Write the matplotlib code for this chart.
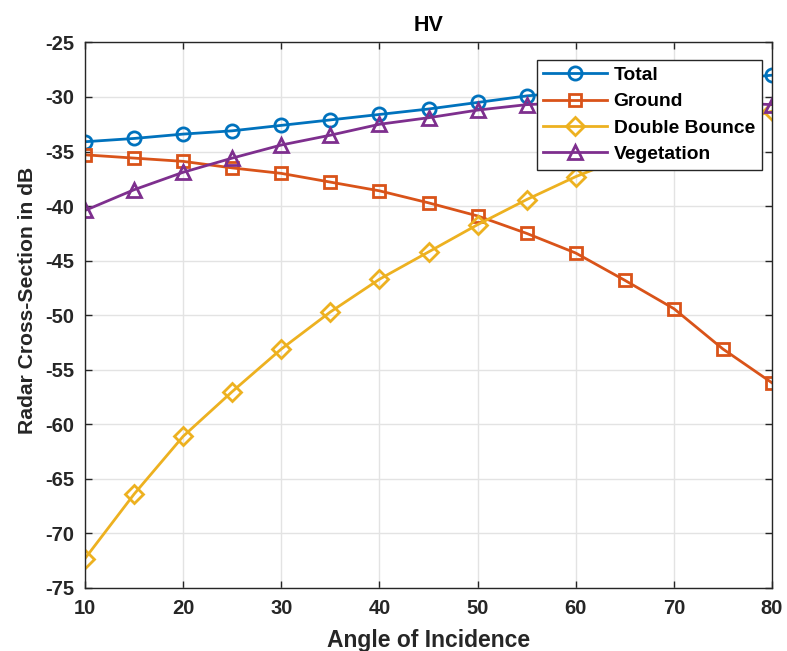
import matplotlib
matplotlib.use("Agg")
import matplotlib.pyplot as plt

angles = [10, 15, 20, 25, 30, 35, 40, 45, 50, 55, 60, 65, 70, 75, 80]
total = [-34.1, -33.8, -33.4, -33.1, -32.6, -32.1, -31.6, -31.1, -30.5, -29.9, -29.5, -29.1, -28.7, -28.4, -28.0]
ground = [-35.3, -35.6, -35.9, -36.5, -37.0, -37.8, -38.6, -39.7, -40.9, -42.5, -44.3, -46.8, -49.4, -53.1, -56.2]
double_bounce = [-72.3, -66.4, -61.1, -57.0, -53.1, -49.7, -46.7, -44.2, -41.7, -39.4, -37.3, -35.5, -34.0, -32.6, -31.3]
vegetation = [-40.4, -38.5, -36.9, -35.6, -34.4, -33.5, -32.5, -31.9, -31.2, -30.7, -30.5, -30.4, -30.4, -30.5, -30.7]

series_names = ["Total", "Ground", "Double Bounce", "Vegetation"]
colors = ["#0072BD", "#D95319", "#EDB120", "#7E2F8E"]
markers = ["o", "s", "D", "^"]
msizes = [9.5, 8.5, 9, 10.5]

plt.rcParams['font.family'] = ['Liberation Sans', 'DejaVu Sans']
plt.rcParams['font.weight'] = 'bold'
plt.rcParams['axes.unicode_minus'] = False

fig = plt.figure(figsize=(7.87, 6.51), dpi=100)
ax = fig.add_axes([0.108, 0.0968, 0.873, 0.838])

for data, name, c, m, ms in zip([total, ground, double_bounce, vegetation], series_names, colors, markers, msizes):
    ax.plot(angles, data, color=c, marker=m, markersize=ms,
            markerfacecolor='none', markeredgewidth=2, linewidth=2, label=name)

ax.set_xlim(10, 80)
ax.set_ylim(-75, -25)
ax.set_xticks(range(10, 81, 10))
ax.set_yticks(range(-75, -24, 5))
ax.grid(True, color='#e3e3e3', linewidth=1)
ax.set_axisbelow(True)
ax.tick_params(direction='in', top=True, right=True, labelsize=14.5, length=5, width=1,
               colors='#262626', pad=8)
for lab in ax.get_xticklabels() + ax.get_yticklabels():
    lab.set_fontweight('bold')
for sp in ax.spines.values():
    sp.set_color('#262626')
    sp.set_linewidth(1)

ax.set_xlabel("Angle of Incidence", fontsize=16.5, fontweight='bold', color='#262626', labelpad=8)
ax.set_ylabel("Radar Cross-Section in dB", fontsize=15.2, fontweight='bold', color='#262626')
ax.yaxis.set_label_coords(-0.07, 0.528)
ax.set_title("HV", fontsize=15.5, fontweight='bold', pad=8)

leg = ax.legend(loc='upper right', bbox_to_anchor=(0.985, 0.968), fontsize=13.9,
                fancybox=False, framealpha=1, edgecolor='#262626', borderpad=0.35,
                labelspacing=0.45, handlelength=3.3, handletextpad=0.35, borderaxespad=0)
leg.get_frame().set_linewidth(1)
for t in leg.get_texts():
    t.set_fontweight('bold')

fig.savefig("out.png", dpi=100)
